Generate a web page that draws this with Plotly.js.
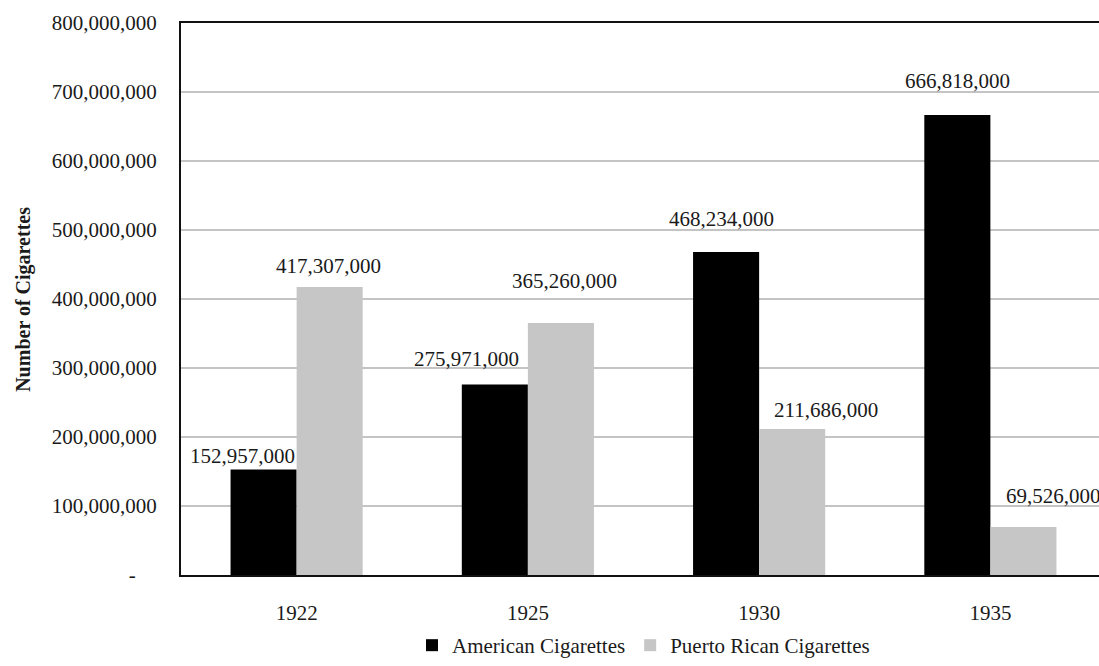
<!DOCTYPE html>
<html>
<head>
<meta charset="utf-8">
<script src="https://cdn.plot.ly/plotly-3.0.1.min.js"></script>
<style>
  html, body { margin: 0; padding: 0; overflow: hidden; background: #ffffff; }
  #chart { width: 1106px; height: 666px; }
</style>
</head>
<body>
<div id="chart"></div>
<script>
// Cigarette counts by year
const years = ['1922', '1925', '1930', '1935'];
const americanCigarettes = [152957000, 275971000, 468234000, 666818000];
const puertoRicanCigarettes = [417307000, 365260000, 211686000, 69526000];
const yTickValues = [0, 100000000, 200000000, 300000000, 400000000, 500000000, 600000000, 700000000, 800000000];

// Per-label placement nudges (pixels) for the value labels
const americanLabelShiftX = [-54, -61, -38, -33];
const americanLabelShiftY = [13, 26, 33, 34];
const puertoRicanLabelShiftX = [32, 37, 67, 63];
const puertoRicanLabelShiftY = [21, 42, 19, 31];

const serif = '"Liberation Serif", "Times New Roman", serif';
const textColor = '#1a1a1a';

const fmt = v => v.toLocaleString('en-US');
const yTickText = yTickValues.map(v => v === 0 ? '-\u00a0\u00a0\u00a0\u00a0' : fmt(v));

const traces = [
  {
    type: 'bar',
    name: 'American Cigarettes',
    x: years,
    y: americanCigarettes,
    marker: { color: '#000000', line: { width: 0 } },
    hoverinfo: 'skip'
  },
  {
    type: 'bar',
    name: 'Puerto Rican Cigarettes',
    x: years,
    y: puertoRicanCigarettes,
    marker: { color: '#c6c6c6', line: { width: 0 } },
    hoverinfo: 'skip'
  }
];

// Value labels sit on the category positions (by index) above each bar
const annotations = [];
years.forEach((yr, i) => {
  annotations.push({
    x: i, y: americanCigarettes[i], xref: 'x', yref: 'y',
    text: fmt(americanCigarettes[i]), showarrow: false,
    xanchor: 'center', yanchor: 'middle',
    xshift: americanLabelShiftX[i], yshift: americanLabelShiftY[i],
    font: { family: serif, size: 21, color: textColor }
  });
  annotations.push({
    x: i, y: puertoRicanCigarettes[i], xref: 'x', yref: 'y',
    text: fmt(puertoRicanCigarettes[i]), showarrow: false,
    xanchor: 'center', yanchor: 'middle',
    xshift: puertoRicanLabelShiftX[i], yshift: puertoRicanLabelShiftY[i],
    font: { family: serif, size: 21, color: textColor }
  });
});

// Vertical axis title
annotations.push({
  xref: 'paper', yref: 'paper', x: -0.171, y: 0.5,
  xanchor: 'center', yanchor: 'middle', textangle: -90,
  text: '<b>Number of Cigarettes</b>', showarrow: false,
  font: { family: serif, size: 20, color: textColor }
});

const layout = {
  width: 1106,
  height: 666,
  margin: { l: 181, r: 0, t: 23, b: 91, pad: 0, autoexpand: false },
  paper_bgcolor: '#ffffff',
  plot_bgcolor: '#ffffff',
  barmode: 'group',
  bargap: 0.4286,
  bargroupgap: 0,
  font: { family: serif, size: 21, color: textColor },
  xaxis: {
    type: 'category',
    range: [-0.5, 3.5],
    automargin: false,
    showline: true, mirror: true, linecolor: '#111111', linewidth: 2,
    showgrid: false, zeroline: false,
    ticks: '', ticklabelstandoff: 18,
    tickfont: { family: serif, size: 21, color: textColor }
  },
  yaxis: {
    range: [0, 800000000],
    automargin: false,
    tickmode: 'array', tickvals: yTickValues, ticktext: yTickText,
    showline: true, mirror: true, linecolor: '#111111', linewidth: 2,
    showgrid: true, gridcolor: '#c4c4c4', gridwidth: 1.5,
    zeroline: false,
    ticks: '', ticklabelstandoff: 18,
    tickfont: { family: serif, size: 21, color: textColor }
  },
  showlegend: true,
  legend: {
    orientation: 'h',
    x: 0.5, xanchor: 'center',
    y: -0.1649, yanchor: 'bottom',
    font: { family: serif, size: 21, color: textColor },
    itemwidth: 30,
    traceorder: 'normal'
  },
  annotations: annotations
};

Plotly.newPlot('chart', traces, layout, { displayModeBar: false, staticPlot: true });
</script>
</body>
</html>
